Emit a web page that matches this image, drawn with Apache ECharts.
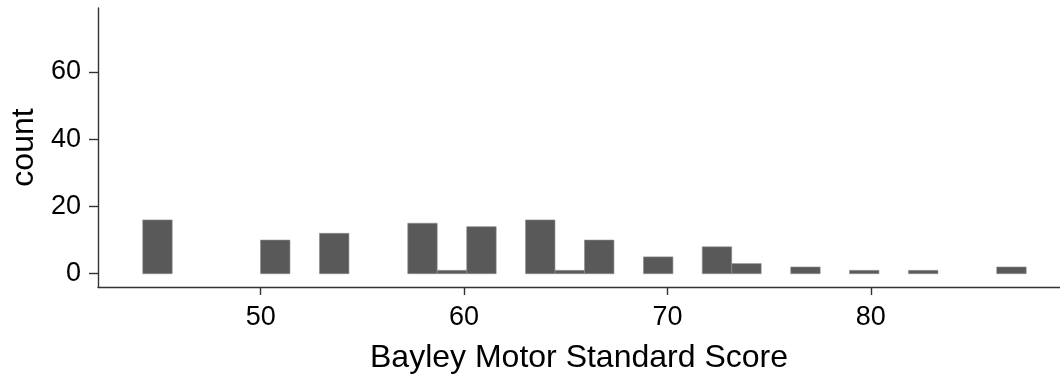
<!DOCTYPE html>
<html>
<head>
<meta charset="utf-8">
<script src="https://cdn.jsdelivr.net/npm/echarts@6/dist/echarts.min.js"></script>
<style>
html,body{margin:0;padding:0;background:#fff;}
#c{width:1060px;height:383px;}
</style>
</head>
<body>
<div id="c"></div>
<script>
// Histogram bins (left edges) and counts
const binWidth = 1.448;
const binStarts = [44.20, 49.99, 52.89, 57.23, 58.68, 60.13, 63.02, 64.47, 65.92, 68.82, 71.71, 73.16, 76.06, 78.95, 81.85, 86.19];
const counts    = [16,    10,    12,    15,    1,     14,    16,    1,     10,    5,     8,     3,     2,     1,     1,     2];
const xTicks = [50, 60, 70, 80];
const yTicks = [0, 20, 40, 60];
const xTitle = 'Bayley Motor Standard Score';
const yTitle = 'count';

const data = binStarts.map((s, i) => [s, s + binWidth, counts[i]]);

const chart = echarts.init(document.getElementById('c'), null, {renderer: 'canvas'});
const font = 'Liberation Sans, Arial, sans-serif';
chart.setOption({
  animation: false,
  backgroundColor: '#ffffff',
  grid: {left: 97, right: 0, top: 8, bottom: 96, containLabel: false},
  xAxis: {
    type: 'value', min: 42, max: 89.3,
    name: xTitle, nameLocation: 'middle', nameGap: 55,
    nameTextStyle: {fontFamily: font, fontSize: 32, color: '#000'},
    axisLine: {show: true, onZero: false, lineStyle: {color: '#333', width: 1.4}},
    axisTick: {show: true, length: 8, customValues: xTicks, lineStyle: {color: '#333', width: 1.4}},
    axisLabel: {customValues: xTicks, fontFamily: font, fontSize: 27, color: '#000', margin: 17},
    splitLine: {show: false}
  },
  yAxis: {
    type: 'value', min: -3.95, max: 79,
    name: yTitle, nameLocation: 'middle', nameGap: 58, nameRotate: 90,
    nameTextStyle: {fontFamily: font, fontSize: 32, color: '#000'},
    axisLine: {show: true, onZero: false, lineStyle: {color: '#333', width: 1.4}},
    axisTick: {show: true, length: 9, customValues: yTicks, lineStyle: {color: '#333', width: 1.4}},
    axisLabel: {customValues: yTicks, fontFamily: font, fontSize: 27, color: '#000', margin: 17},
    splitLine: {show: false}
  },
  series: [{
    type: 'custom',
    data: data,
    encode: {x: [0, 1], y: 2},
    renderItem: function (params, api) {
      const p0 = api.coord([api.value(0), api.value(2)]);
      const p1 = api.coord([api.value(1), 0]);
      return {
        type: 'rect',
        shape: {x: p0[0], y: p0[1], width: p1[0] - p0[0], height: p1[1] - p0[1]},
        style: {fill: '#595959', stroke: '#8c8c8c', lineWidth: 0.6}
      };
    }
  }]
});
</script>
</body>
</html>
